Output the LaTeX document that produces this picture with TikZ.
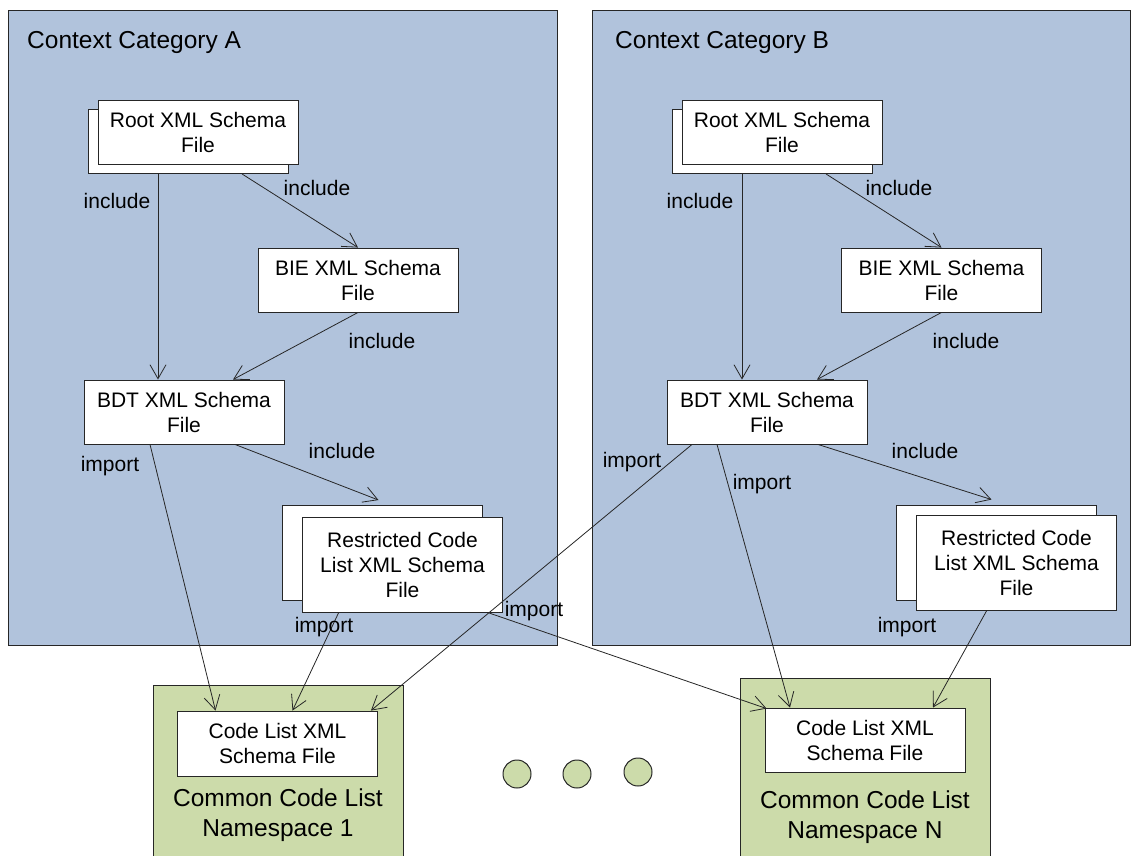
\documentclass[tikz,border=0pt]{standalone}
\usepackage{fontspec}
\setmainfont{Liberation Sans}
\usetikzlibrary{arrows.meta}
\definecolor{ctxblue}{HTML}{B1C3DC}
\definecolor{nsgreen}{HTML}{CCDBAA}
\definecolor{edge}{HTML}{262626}

\begin{document}
\begin{tikzpicture}[
  x=1pt,y=-1pt,
  panel/.style={draw=edge,fill=ctxblue,line width=0.9pt,anchor=north west,inner sep=0pt,minimum width=549pt,minimum height=635pt},
  ns/.style={draw=edge,fill=nsgreen,line width=0.9pt,anchor=north west,inner sep=0pt,minimum width=250pt,minimum height=200pt},
  file/.style={draw=edge,fill=white,line width=0.9pt,minimum width=200pt,minimum height=64pt,inner sep=0pt,align=center,font=\fontsize{21pt}{25pt}\selectfont},
  rfile/.style={file,minimum height=95pt},
  title/.style={anchor=west,inner sep=0pt,font=\fontsize{24.5pt}{29pt}\selectfont},
  nstitle/.style={inner sep=0pt,align=center,font=\fontsize{24.5pt}{30pt}\selectfont},
  lbl/.style={inner sep=0pt,font=\fontsize{21pt}{24pt}\selectfont},
  arr/.style={-{Straight Barb[length=14pt,width=16pt]},line width=0.8pt,edge},
  dot/.style={circle,draw=edge,fill=nsgreen,line width=1pt,minimum size=28pt,inner sep=0pt}
]
  \useasboundingbox (0,0) rectangle (1133,856);
  \clip (0,0) rectangle (1133,856);

  % context categories
  \node[panel] (ctxA) at (8,10) {};
  \node[panel,minimum width=538pt] (ctxB) at (592,10) {};
  \node[title] (tA) at (27,42) {Context Category A};
  \node[title] (tB) at (615,42) {Context Category B};

  % common code list namespaces
  \node[ns] (ns1) at (153,685) {};
  \node[ns] (nsN) at (740,678) {};
  \node[nstitle] (ns1t) at (278,815) {Common Code List\\Namespace 1};
  \node[nstitle] (nsNt) at (865,817) {Common Code List\\Namespace N};
  \node[file,minimum height=65pt] (cl1) at (277.5,743.5) {Code List XML\\Schema File};
  \node[file] (clN) at (865,740) {Code List XML\\Schema File};

  % category A files
  \node[file] (rootAb) at (188,141.5) {};
  \node[file] (rootA) at (198,132) {Root XML Schema\\File};
  \node[file] (bieA) at (358,280) {BIE XML Schema\\File};
  \node[file] (bdtA) at (184,412) {BDT XML Schema\\File};
  \node[rfile] (rclAb) at (382.5,553) {};
  \node[rfile] (rclA) at (402.5,565) {Restricted Code\\List XML Schema\\File};

  % category B files
  \node[file] (rootBb) at (772,141.5) {};
  \node[file] (rootB) at (782,132) {Root XML Schema\\File};
  \node[file] (bieB) at (941.5,280) {BIE XML Schema\\File};
  \node[file] (bdtB) at (767,412) {BDT XML Schema\\File};
  \node[rfile] (rclBb) at (996.5,552.5) {};
  \node[rfile] (rclB) at (1016.5,563) {Restricted Code\\List XML Schema\\File};

  % more namespaces
  \node[dot] (d1) at (517,774) {};
  \node[dot] (d2) at (577,774) {};
  \node[dot] (d3) at (638,772) {};

  % includes and imports, A
  \draw[arr] ([xshift=-30]rootAb.south) -- ([xshift=-26]bdtA.north);
  \draw[arr] ([xshift=54]rootAb.south) -- (bieA.north);
  \draw[arr] (bieA.south) -- ([xshift=49]bdtA.north);
  \draw[arr] ([xshift=51]bdtA.south) -- ([xshift=-4,yshift=5]rclAb.north);
  \draw[arr] ([xshift=-34]bdtA.south) -- ([xshift=-62]cl1.north);
  \draw[arr] ([xshift=-64]rclA.south) -- ([xshift=15]cl1.north);
  \draw[arr] ([xshift=-14]rclA.south east) -- ([xshift=2,yshift=-1]clN.north west);

  % includes and imports, B
  \draw[arr] ([xshift=-30]rootBb.south) -- ([xshift=-25]bdtB.north);
  \draw[arr] ([xshift=54]rootBb.south) -- (bieB.north);
  \draw[arr] (bieB.south) -- ([xshift=50]bdtB.north);
  \draw[arr] ([xshift=51]bdtB.south) -- ([xshift=-5,yshift=5]rclBb.north);
  \draw[arr] ([xshift=-75]bdtB.south) -- ([xshift=-7]cl1.north east);
  \draw[arr] ([xshift=-50]bdtB.south) -- ([xshift=-75]clN.north);
  \draw[arr] ([xshift=-30]rclB.south) -- ([xshift=68]clN.north);

  % labels
  \node[lbl] (iA1) at (117,201) {include};
  \node[lbl] (iA2) at (317,188) {include};
  \node[lbl] (iA3) at (382,341) {include};
  \node[lbl] (iA4) at (342,451) {include};
  \node[lbl] (mA1) at (110,466) {import};
  \node[lbl] (mA2) at (324,627) {import};
  \node[lbl] (mA3) at (534,611) {import};
  \node[lbl] (iB1) at (700,201) {include};
  \node[lbl] (iB2) at (899,188) {include};
  \node[lbl] (iB3) at (966,341) {include};
  \node[lbl] (iB4) at (925,451) {include};
  \node[lbl] (mB1) at (632,462) {import};
  \node[lbl] (mB2) at (762,484) {import};
  \node[lbl] (mB3) at (907,627) {import};
\end{tikzpicture}
\end{document}
